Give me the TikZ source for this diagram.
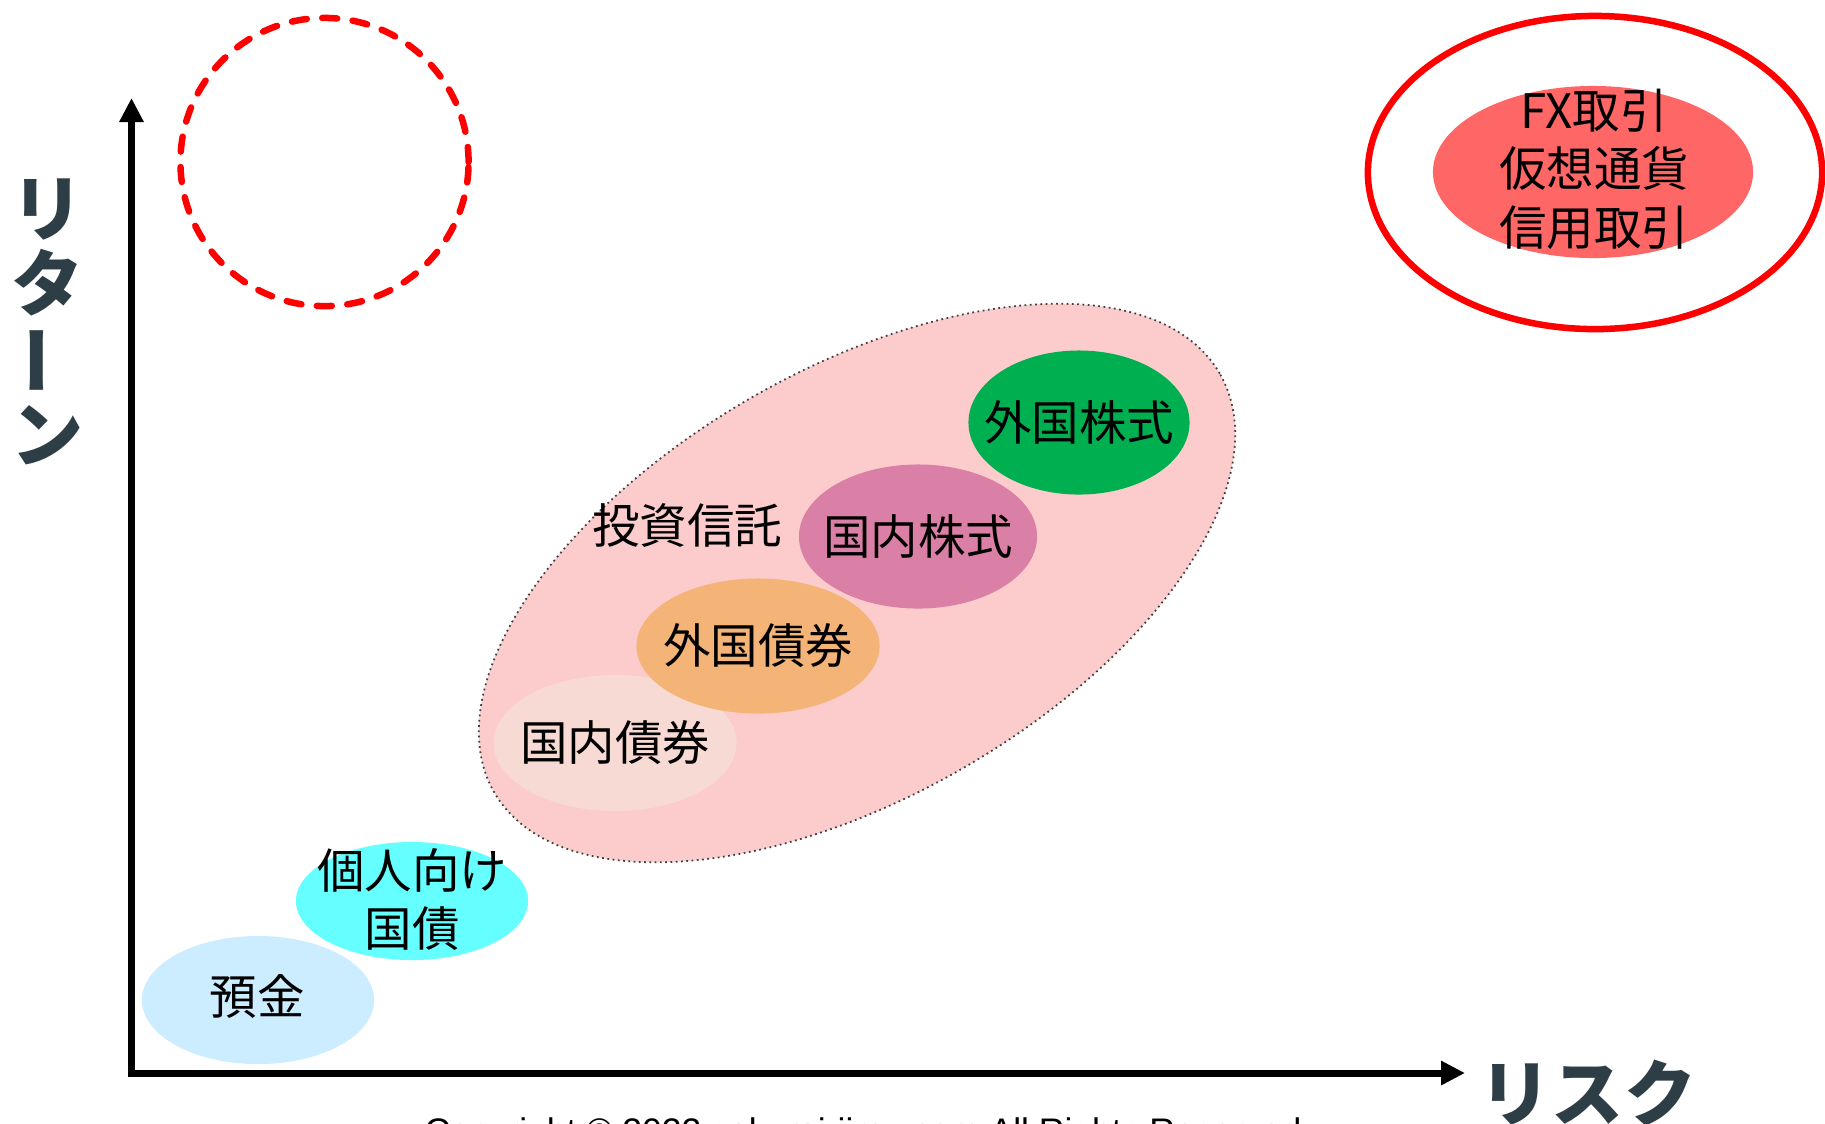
\documentclass[tikz,border=0pt]{standalone}
\usepackage{fontspec}
\setmainfont{Liberation Sans}
\newfontfamily\cjk{Noto Sans CJK JP}
\usetikzlibrary{shapes.geometric,arrows.meta}
\definecolor{axiscol}{RGB}{45,62,70}
\definecolor{pinkbg}{RGB}{252,203,203}
\definecolor{forstockc}{RGB}{0,176,80}
\definecolor{domstockc}{RGB}{218,128,166}
\definecolor{forbondc}{RGB}{244,180,120}
\definecolor{dombondc}{RGB}{248,218,212}
\definecolor{jgbc}{RGB}{102,255,255}
\definecolor{depositc}{RGB}{204,236,255}
\definecolor{fxc}{RGB}{255,102,102}
\begin{document}
\begin{tikzpicture}[x=0.01cm,y=-0.01cm,
  blob/.style={ellipse,inner sep=0pt,draw=none},
  jtext/.style={inner sep=0pt,align=center,text=black,font=\cjk\fontsize{13.5pt}{16.6pt}\selectfont},
  axislabel/.style={inner sep=0pt,text=axiscol,font=\cjk\bfseries\fontsize{20.5pt}{24pt}\selectfont},
  axisline/.style={line width=0.07cm,{Triangle[width=0.23cm,length=0.24cm]}-{Triangle[width=0.23cm,length=0.24cm]}}
]
\useasboundingbox (0,0) rectangle (1825,1123);
\fill[white] (0,0) rectangle (1825,1123);

% dashed target circle
\node[circle,draw=red,line width=0.065cm,line cap=round,dash pattern=on 0.15cm off 0.155cm,minimum size=2.88cm,inner sep=0pt] (target) at (324.5,162) {};

% high risk group
\node[blob,draw=red,line width=0.065cm,minimum width=4.54cm,minimum height=3.13cm] (hiring) at (1595,172.5) {};
\node[blob,fill=fxc,minimum width=3.20cm,minimum height=1.72cm] (fx) at (1593,172) {};
\node[jtext] (fxtext) at (1594,169) {FX取引\\仮想通貨\\信用取引};

% investment trust group
\node[blob,fill=pinkbg,draw=black!75,densely dotted,line width=0.5pt,rotate=30,minimum width=8.372cm,minimum height=4.264cm] (fund) at (857,583) {};
\node[jtext] (fundtext) at (687,526) {投資信託};

\node[blob,fill=dombondc,minimum width=2.43cm,minimum height=1.36cm] (dombond) at (615,743) {};
\node[jtext] (dombondtext) at (dombond.center) {国内債券};
\node[blob,fill=forbondc,minimum width=2.43cm,minimum height=1.35cm] (forbond) at (758,646) {};
\node[jtext] (forbondtext) at (forbond.center) {外国債券};
\node[blob,fill=domstockc,minimum width=2.38cm,minimum height=1.44cm] (domstock) at (918,536.5) {};
\node[jtext] (domstocktext) at (domstock.center) {国内株式};
\node[blob,fill=forstockc,minimum width=2.21cm,minimum height=1.44cm] (forstock) at (1079,422.5) {};
\node[jtext] (forstocktext) at (forstock.center) {外国株式};

% low risk
\node[blob,fill=depositc,minimum width=2.32cm,minimum height=1.28cm] (deposit) at (258,1000) {};
\node[jtext] (deposittext) at (257,996) {預金};
\node[blob,fill=jgbc,minimum width=2.32cm,minimum height=1.18cm] (jgb) at (412,901) {};
\node[jtext] (jgbtext) at (412,899.5) {個人向け\\国債};

% axes
\coordinate (origin) at (131.5,1073);
\coordinate (ytip) at (131.5,98);
\coordinate (xtip) at (1465,1073);
\draw[axisline] (ytip) -- (origin) -- (xtip);

\node[axislabel] (risk) at (1588,1093) {リスク};
\node[axislabel] (ret1) at (47.5,209) {リ};
\node[axislabel] (ret2) at (47.5,283) {タ};
\node[axislabel,rotate=90] (ret3) at (47.5,360) {ー};
\node[axislabel] (ret4) at (47.5,435) {ン};

\node[anchor=base,inner sep=0pt,font=\fontsize{10.1pt}{12pt}\selectfont] (copyright) at (868,1143) {Copyright © 2022 sakurai-jimu.com All Rights Reserved.};
\end{tikzpicture}
\end{document}
